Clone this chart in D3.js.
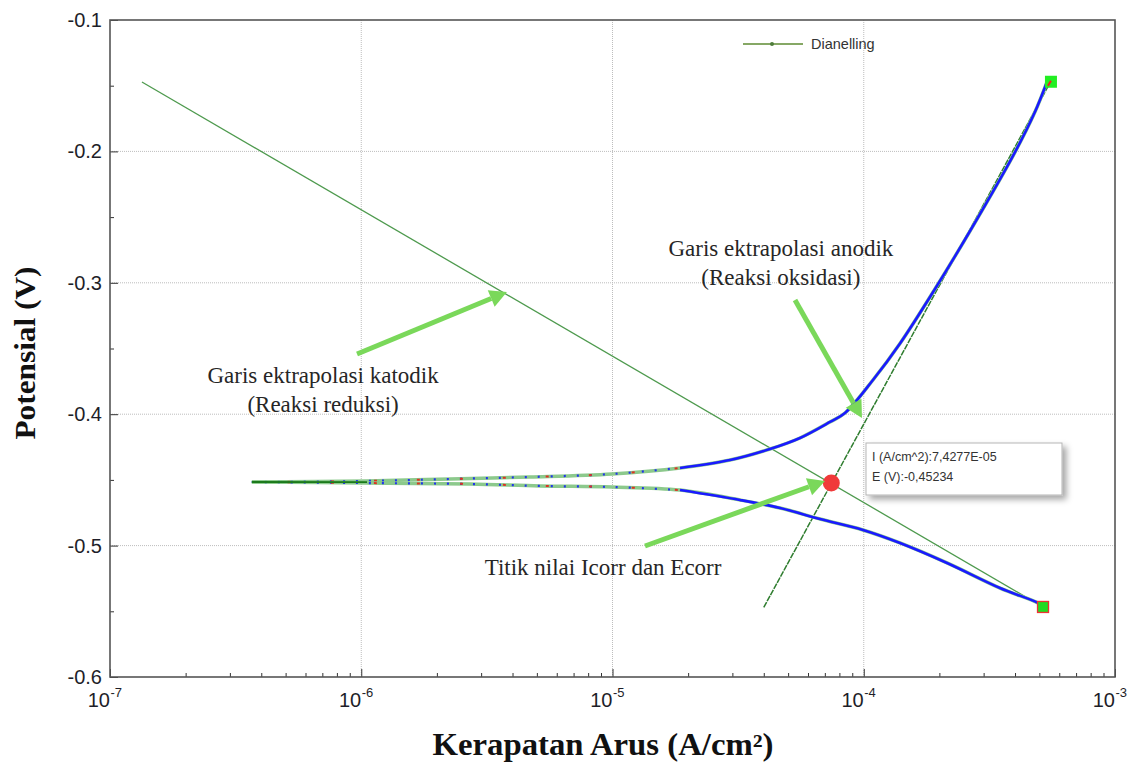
<!DOCTYPE html>
<html><head><meta charset="utf-8">
<script src="https://cdn.jsdelivr.net/npm/d3@7"></script>
<style>body{margin:0;background:#fff}svg{display:block}</style>
</head><body>
<svg id="c" width="1139" height="763"></svg>
<script>
// ---- data ----
const anodicCurve = [
  [3.67e-7,-0.4516],[1.054e-6,-0.4508],[2.255e-6,-0.4493],[4.69e-6,-0.4478],[9.95e-6,-0.4455],
  [1.857e-5,-0.4409],[2.936e-5,-0.4349],[4.234e-5,-0.4265],[5.574e-5,-0.4181],[7.34e-5,-0.4059],
  [8.42e-5,-0.3991],[1.088e-4,-0.3740],[1.394e-4,-0.3462],[1.921e-4,-0.3047],[2.648e-4,-0.2606],
  [4.0e-4,-0.2005],[4.80e-4,-0.1700],[5.36e-4,-0.1472]
];
const cathodicCurve = [
  [3.67e-7,-0.4516],[1.054e-6,-0.4524],[2.709e-6,-0.4531],[5.145e-6,-0.4546],[9.95e-6,-0.4554],
  [1.857e-5,-0.4577],[3.218e-5,-0.4653],[4.642e-5,-0.4714],[6.70e-5,-0.4798],[9.93e-5,-0.4881],
  [1.394e-4,-0.4980],[2.145e-4,-0.5132],[3.486e-4,-0.5323],[5.03e-4,-0.5444],[5.17e-4,-0.5467]
];
const cathodicTafel = [[1.34e-7,-0.1472],[5.17e-4,-0.5467]];
const anodicTafel = [[4.0e-5,-0.547],[5.56e-4,-0.1465]];
const corrPoint = [7.4277e-5,-0.45234];
const endMarkers = [[5.56e-4,-0.147],[5.17e-4,-0.5467]];
const xTickExps = [-7,-6,-5,-4,-3];
const yTicks = [-0.6,-0.5,-0.4,-0.3,-0.2,-0.1];
const yTickLabels = ["-0.6","-0.5","-0.4","-0.3","-0.2","-0.1"];
const legendLabel = "Dianelling";
const tooltipLines = ["I (A/cm^2):7,4277E-05","E (V):-0,45234"];
const arrows = [
  {from:[9.62e-7,-0.3542], to:[3.80e-6,-0.3070]},
  {from:[5.325e-5,-0.3131], to:[9.84e-5,-0.4029]},
  {from:[1.347e-5,-0.5003], to:[7.01e-5,-0.4508]}
];
const notes = [
  {at:[4.68e-5,-0.2796], lines:["Garis ektrapolasi anodik","(Reaksi oksidasi)"]},
  {at:[7.05e-7,-0.3763], lines:["Garis ektrapolasi katodik","(Reaksi reduksi)"]},
  {at:[9.17e-6,-0.5224], lines:["Titik nilai Icorr dan Ecorr"]}
];

// ---- chart ----
const L=110,R=1115,T=20,B=677;
const svg=d3.select("#c");
const x=d3.scaleLog().domain([1e-7,1e-3]).range([L,R]);
const y=d3.scaleLinear().domain([-0.6,-0.1]).range([B,T]);

const defs=svg.append("defs");
const f=defs.append("filter").attr("id","sh").attr("x","-10%").attr("y","-10%").attr("width","130%").attr("height","140%");
f.append("feDropShadow").attr("dx",4).attr("dy",4).attr("stdDeviation",3).attr("flood-color","#000").attr("flood-opacity",0.35);

// grid
const grid=svg.append("g");
xTickExps.slice(1,-1).forEach(e=>{
  grid.append("line").attr("x1",x(Math.pow(10,e))).attr("x2",x(Math.pow(10,e))).attr("y1",T).attr("y2",B)
    .attr("stroke","#bdbdbd").attr("stroke-dasharray","1,1");
});
yTicks.slice(1,-1).forEach(v=>{
  grid.append("line").attr("x1",L).attr("x2",R).attr("y1",y(v)).attr("y2",y(v))
    .attr("stroke","#bdbdbd").attr("stroke-dasharray","1,1");
});

// axes (ticks inside)
const xAxis=d3.axisBottom(x).tickValues(d3.range(-7,-3).flatMap(e=>d3.range(1,10).map(k=>k*Math.pow(10,e))).concat([1e-3]))
  .tickFormat("").tickSizeOuter(0).tickSizeInner(0);
const gx=svg.append("g").attr("transform",`translate(0,${B})`).call(xAxis);
gx.selectAll(".tick line").attr("y2",function(d){const m=Math.abs(Math.log10(d)-Math.round(Math.log10(d)))<1e-6;return m?-8:-4;}).attr("stroke","#333");
gx.select(".domain").remove();
const yAxis=d3.axisLeft(y).tickValues(d3.range(-0.6,-0.09,0.05)).tickFormat("").tickSizeOuter(0).tickSizeInner(0);
const gy=svg.append("g").attr("transform",`translate(${L},0)`).call(yAxis);
gy.selectAll(".tick line").attr("x2",(d,i)=>i%2===0?8:4).attr("stroke","#333");
gy.select(".domain").remove();

// frame
svg.append("rect").attr("x",L).attr("y",T).attr("width",R-L).attr("height",B-T).attr("fill","none").attr("stroke","#555").attr("stroke-width",1.6);

// tick labels
const yl=svg.append("g").attr("font-family","Liberation Sans, Arial, sans-serif").attr("font-size",20).attr("fill","#1e1e28");
yTicks.forEach((v,i)=>{
  yl.append("text").attr("x",L-8).attr("y",y(v)+7).attr("text-anchor","end").text(yTickLabels[i]);
});
const xl=svg.append("g").attr("font-family","Liberation Sans, Arial, sans-serif").attr("fill","#1e1e28");
xTickExps.forEach(e=>{
  xl.append("text").attr("x",x(Math.pow(10,e))).attr("y",707).attr("text-anchor","end").attr("font-size",20).text("10");
  xl.append("text").attr("x",x(Math.pow(10,e))+0.5).attr("y",697).attr("font-size",13).text(String(e));
});

// axis titles
svg.append("text").attr("x",603).attr("y",755).attr("text-anchor","middle")
  .attr("font-family","Liberation Serif, Times New Roman, serif").attr("font-weight","bold").attr("font-size",31)
  .attr("textLength",341).attr("lengthAdjust","spacingAndGlyphs")
  .attr("fill","#111").text("Kerapatan Arus (A/cm²)");
svg.append("text").attr("transform","translate(35,353) rotate(-90)").attr("text-anchor","middle")
  .attr("font-family","Liberation Serif, Times New Roman, serif").attr("font-weight","bold").attr("font-size",29)
  .attr("textLength",173).attr("lengthAdjust","spacingAndGlyphs")
  .attr("fill","#111").text("Potensial (V)");

const line=d3.line().x(d=>x(d[0])).y(d=>y(d[1]));
const curve=d3.line().x(d=>x(d[0])).y(d=>y(d[1])).curve(d3.curveCatmullRom.alpha(0.5));

// tafel lines
svg.append("path").attr("d",line(cathodicTafel)).attr("fill","none").attr("stroke","#4e9a4e").attr("stroke-width",1.3);
svg.append("path").attr("d",line(anodicTafel)).attr("fill","none").attr("stroke","#2f7d2f").attr("stroke-width",1.5).attr("stroke-dasharray","6,1");

// measured curves
[anodicCurve,cathodicCurve].forEach(c=>{
  svg.append("path").attr("d",curve(c)).attr("fill","none").attr("stroke","#8cc98c").attr("stroke-width",3.5);
  svg.append("path").attr("d",curve(c.filter(d=>d[0]>=1.8e-5))).attr("fill","none").attr("stroke","#1a1aff").attr("stroke-width",2.6);
  svg.append("path").attr("d",curve(c.filter(d=>d[0]<=1.9e-5))).attr("fill","none").attr("stroke","#2233ee").attr("stroke-width",2.2).attr("stroke-dasharray","2,11");
  svg.append("path").attr("d",curve(c.filter(d=>d[0]<=1.9e-5))).attr("fill","none").attr("stroke","#dd3322").attr("stroke-width",2).attr("stroke-dasharray","3,40").attr("stroke-dashoffset",7);
});
// dark green segment at low current
svg.append("path").attr("d",line([anodicCurve[0],[1.054e-6,-0.4517]])).attr("stroke","#1b7a1b").attr("stroke-width",1.8);

// end markers
svg.append("rect").attr("x",x(endMarkers[0][0])-6).attr("y",y(endMarkers[0][1])-6).attr("width",12).attr("height",12).attr("fill","#22ee22");
svg.append("line").attr("x1",x(endMarkers[0][0])-3).attr("y1",y(endMarkers[0][1])+4).attr("x2",x(endMarkers[0][0])).attr("y2",y(endMarkers[0][1])-1).attr("stroke","#e22").attr("stroke-width",2);
svg.append("rect").attr("x",x(endMarkers[1][0])-5.5).attr("y",y(endMarkers[1][1])-5.5).attr("width",11).attr("height",11).attr("fill","#22dd22").attr("stroke","#ee3333").attr("stroke-width",1.3);

// legend
const lg=svg.append("g");
lg.append("line").attr("x1",743).attr("x2",803).attr("y1",44).attr("y2",44).attr("stroke","#86a865").attr("stroke-width",2);
lg.append("circle").attr("cx",772).attr("cy",44).attr("r",2).attr("fill","#4e7d3a");
lg.append("text").attr("x",811).attr("y",49).attr("font-family","Liberation Sans, Arial, sans-serif").attr("font-size",14.5).attr("fill","#333").text(legendLabel);

// corr point
svg.append("circle").attr("cx",x(corrPoint[0])).attr("cy",y(corrPoint[1])).attr("r",8.5).attr("fill","#f03a3a");

// tooltip
const tt=svg.append("g");
tt.append("rect").attr("x",866).attr("y",443).attr("width",196).attr("height",52).attr("fill","#fff").attr("stroke","#b5b5b5").attr("filter","url(#sh)");
tooltipLines.forEach((s,i)=>tt.append("text").attr("x",872).attr("y",461+i*20).attr("font-family","Liberation Sans, Arial, sans-serif").attr("font-size",12.5).attr("fill","#333").text(s));

// arrows
const ag=svg.append("g");
arrows.forEach(a=>{
  const x1=x(a.from[0]),y1=y(a.from[1]),x2=x(a.to[0]),y2=y(a.to[1]);
  const ang=Math.atan2(y2-y1,x2-x1), hl=17, hw=9;
  const bx=x2-hl*Math.cos(ang), by=y2-hl*Math.sin(ang);
  ag.append("line").attr("x1",x1).attr("y1",y1).attr("x2",bx).attr("y2",by).attr("stroke","#7ad85a").attr("stroke-width",5);
  const px=-Math.sin(ang)*hw, py=Math.cos(ang)*hw;
  ag.append("path").attr("d",`M${x2},${y2}L${bx+px},${by+py}L${bx-px},${by-py}Z`).attr("fill","#7ad85a");
});

// notes
notes.forEach(n=>{
  const t=svg.append("text").attr("font-family","Liberation Serif, Times New Roman, serif").attr("font-size",23).attr("fill","#262626").attr("text-anchor","middle");
  n.lines.forEach((s,i)=>t.append("tspan").attr("x",x(n.at[0])).attr("y",y(n.at[1])+i*29).text(s));
});
</script>
</body></html>
